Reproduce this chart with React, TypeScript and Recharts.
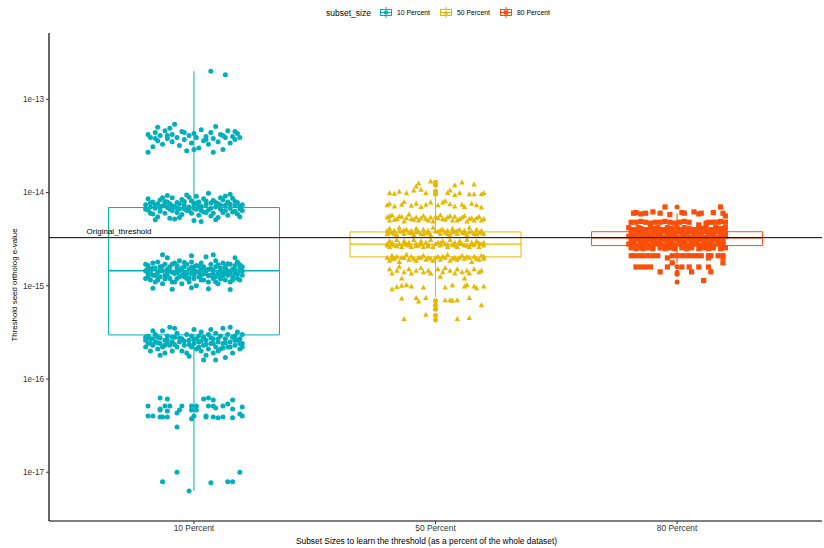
import React from 'react';
import { ScatterChart, Scatter, XAxis, YAxis, ReferenceArea, ReferenceLine, ReferenceDot } from 'recharts';

const categories = ['10 Percent', '50 Percent', '80 Percent'];
const colors = ['#00AFBB', '#E7B800', '#FC4E07'];
const yTicks = [1e-17, 1e-16, 1e-15, 1e-14, 1e-13];
const yDomain = [3.0e-18, 5.14e-13];
const thresholdValue = 3.28e-15;
const thresholdLabelX = 0.69;

// box stats: [lower whisker, q1, median, q3, upper whisker]
const box10 = [6.3e-18, 2.97e-16, 1.45e-15, 6.9e-15, 2.0e-13];
const box50 = [7.6e-16, 2.04e-15, 2.8e-15, 3.78e-15, 8.9e-15];
const box80 = [1.76e-15, 2.7e-15, 3.27e-15, 3.8e-15, 6.0e-15];

const outliers50 = [1.29e-14, 1.2e-14, 1.03e-14, 9.6e-15, 6.9e-16, 6.2e-16, 5.6e-16, 4.8e-16, 4.3e-16];
const outliers80 = [7.0e-15, 1.6e-15, 1.4e-15, 1.33e-15, 1.1e-15];

// jittered points: [jitter (hundredths of a category), value]
const tenPercentPoints = [
  [7, 2.0e-13], [13, 1.83e-13],
  [-19, 4.2e-14], [-18, 3.9e-14], [-17, 3.1e-14], [-16, 4.4e-14], [-15, 5.0e-14], [-15, 3.6e-14], [-14, 4.1e-14], [-13, 3.3e-14], [-12, 4.6e-14], [-11, 3.8e-14],
  [-10, 4.9e-14], [-9, 3.5e-14], [-9, 4.2e-14], [-8, 5.4e-14], [-7, 3.9e-14], [-6, 3.2e-14], [-5, 4.5e-14], [-4, 3.7e-14], [-3, 2.8e-14], [-2, 4.1e-14],
  [-1, 3.4e-14], [0, 4.3e-14], [1, 3.9e-14], [2, 3.0e-14], [3, 4.7e-14], [4, 3.6e-14], [5, 4.0e-14], [6, 3.3e-14], [7, 4.4e-14], [8, 3.8e-14],
  [9, 5.1e-14], [10, 3.5e-14], [11, 4.2e-14], [12, 2.9e-14], [13, 3.9e-14], [14, 4.6e-14], [15, 3.4e-14], [16, 4.0e-14], [17, 3.7e-14], [18, 4.3e-14],
  [19, 3.9e-14], [-16, 3.8e-14], [-11, 4.1e-14], [-4, 4.4e-14], [5, 3.7e-14], [12, 4.1e-14], [17, 4.5e-14], [-19, 2.7e-14], [8, 2.7e-14], [0, 2.9e-14],
  [-20, 7.4e-15], [-19, 6.5e-15], [-19, 8.6e-15], [-18, 7.0e-15], [-17, 5.9e-15], [-17, 7.9e-15], [-16, 6.8e-15], [-15, 7.6e-15], [-15, 5.5e-15], [-14, 8.3e-15],
  [-14, 6.3e-15], [-13, 7.2e-15], [-12, 6.0e-15], [-12, 8.0e-15], [-11, 6.9e-15], [-10, 7.6e-15], [-10, 5.3e-15], [-9, 6.4e-15], [-9, 8.8e-15], [-8, 7.1e-15],
  [-7, 6.1e-15], [-7, 7.8e-15], [-6, 6.7e-15], [-5, 8.4e-15], [-5, 5.8e-15], [-4, 7.3e-15], [-3, 6.4e-15], [-3, 9.4e-15], [-2, 7.0e-15], [-1, 6.0e-15],
  [-1, 8.1e-15], [0, 7.5e-15], [0, 5.0e-15], [1, 6.6e-15], [2, 7.9e-15], [2, 5.7e-15], [3, 7.1e-15], [4, 6.2e-15], [4, 8.6e-15], [5, 7.4e-15],
  [6, 6.5e-15], [6, 9.8e-15], [7, 7.7e-15], [8, 6.0e-15], [8, 8.2e-15], [9, 7.0e-15], [10, 5.4e-15], [10, 7.6e-15], [11, 6.6e-15], [12, 8.3e-15],
  [12, 6.1e-15], [13, 7.3e-15], [14, 5.7e-15], [14, 7.9e-15], [15, 6.8e-15], [16, 8.7e-15], [16, 6.2e-15], [17, 7.2e-15], [18, 5.9e-15], [18, 7.8e-15],
  [19, 6.7e-15], [20, 7.4e-15], [-18, 6.0e-15], [-13, 8.8e-15], [-6, 5.4e-15], [1, 9.1e-15], [7, 5.6e-15], [13, 9.2e-15], [19, 5.5e-15], [-16, 5.1e-15],
  [3, 4.9e-15], [9, 5.1e-15], [-11, 9.3e-15], [15, 9.6e-15], [-2, 8.9e-15], [11, 8.8e-15], [-8, 5.2e-15], [5, 6.1e-15], [-4, 6.7e-15], [17, 6.3e-15],
  [-20, 6.6e-15], [-18, 7.7e-15], [-16, 7.3e-15], [-14, 6.9e-15], [-12, 7.3e-15], [-11, 7.9e-15], [-9, 7.2e-15], [-7, 6.8e-15], [-6, 7.6e-15], [-4, 8.0e-15],
  [-2, 6.4e-15], [0, 6.8e-15], [1, 7.7e-15], [3, 6.4e-15], [5, 8.1e-15], [7, 6.8e-15], [9, 7.8e-15], [11, 7.3e-15], [13, 6.4e-15], [15, 7.5e-15],
  [17, 8.0e-15], [19, 7.1e-15], [20, 6.4e-15], [-10, 6.6e-15], [2, 7.1e-15],
  [-20, 1.45e-15], [-20, 1.2e-15], [-19, 1.65e-15], [-19, 1.35e-15], [-18, 1.5e-15], [-18, 1.15e-15], [-17, 1.75e-15], [-17, 1.3e-15], [-16, 1.55e-15], [-16, 1.1e-15],
  [-15, 1.4e-15], [-15, 1.8e-15], [-14, 1.25e-15], [-14, 1.6e-15], [-13, 1.45e-15], [-13, 1.05e-15], [-12, 1.7e-15], [-12, 1.3e-15], [-11, 1.5e-15], [-11, 2.0e-15],
  [-10, 1.2e-15], [-10, 1.6e-15], [-9, 1.4e-15], [-9, 1.1e-15], [-8, 1.75e-15], [-8, 1.35e-15], [-7, 1.55e-15], [-7, 1.2e-15], [-6, 1.45e-15], [-6, 1.85e-15],
  [-5, 1.3e-15], [-5, 1.05e-15], [-4, 1.6e-15], [-4, 1.4e-15], [-3, 1.2e-15], [-3, 1.7e-15], [-2, 1.5e-15], [-2, 1.1e-15], [-1, 1.35e-15], [-1, 1.8e-15],
  [0, 1.45e-15], [0, 1.2e-15], [1, 1.65e-15], [1, 1.0e-15], [2, 1.4e-15], [2, 1.25e-15], [3, 1.75e-15], [3, 1.5e-15], [4, 1.15e-15], [4, 1.6e-15],
  [5, 1.35e-15], [5, 2.05e-15], [6, 1.5e-15], [6, 1.1e-15], [7, 1.7e-15], [7, 1.3e-15], [8, 1.45e-15], [8, 1.2e-15], [9, 1.6e-15], [9, 1.85e-15],
  [10, 1.35e-15], [10, 1.05e-15], [11, 1.55e-15], [11, 1.25e-15], [12, 1.75e-15], [12, 1.4e-15], [13, 1.15e-15], [13, 1.6e-15], [14, 1.45e-15], [14, 1.3e-15],
  [15, 1.7e-15], [15, 1.1e-15], [16, 1.5e-15], [16, 1.25e-15], [17, 1.65e-15], [17, 1.35e-15], [18, 1.2e-15], [18, 1.8e-15], [19, 1.45e-15], [19, 1.55e-15],
  [20, 1.3e-15], [20, 1.6e-15], [-17, 9.4e-16], [-9, 9.2e-16], [-1, 9.5e-16], [6, 9.3e-16], [15, 9.1e-16], [-13, 2.15e-15], [-1, 2.1e-15], [8, 2.15e-15],
  [17, 2.0e-15], [-15, 1.25e-15], [-7, 1.65e-15], [3, 1.3e-15], [11, 1.4e-15], [19, 1.15e-15], [-19, 1.55e-15], [-11, 1.4e-15], [0, 1.6e-15], [13, 1.35e-15],
  [-4, 1.25e-15], [9, 1.25e-15],
  [-20, 1.7e-15], [-19, 1.25e-15], [-18, 1.38e-15], [-17, 1.55e-15], [-16, 1.3e-15], [-15, 1.15e-15], [-14, 1.45e-15], [-13, 1.62e-15], [-12, 1.18e-15], [-11, 1.28e-15],
  [-10, 1.45e-15], [-9, 1.7e-15], [-8, 1.1e-15], [-7, 1.38e-15], [-6, 1.25e-15], [-5, 1.55e-15], [-4, 1.78e-15], [-3, 1.35e-15], [-2, 1.22e-15], [-1, 1.58e-15],
  [0, 1.32e-15], [1, 1.42e-15], [2, 1.62e-15], [3, 1.15e-15], [4, 1.35e-15], [5, 1.48e-15], [6, 1.28e-15], [7, 1.52e-15], [8, 1.33e-15], [9, 1.1e-15],
  [10, 1.68e-15], [11, 1.18e-15], [12, 1.28e-15], [13, 1.5e-15], [14, 1.72e-15], [15, 1.38e-15], [16, 1.15e-15], [17, 1.48e-15], [18, 1.32e-15], [19, 1.68e-15], [20, 1.45e-15],
  [-20, 2.6e-16], [-20, 2.2e-16], [-19, 2.9e-16], [-19, 2.4e-16], [-18, 2.0e-16], [-18, 2.7e-16], [-17, 2.3e-16], [-16, 3.0e-16], [-16, 2.5e-16], [-15, 2.1e-16],
  [-15, 2.8e-16], [-14, 2.4e-16], [-13, 3.3e-16], [-13, 2.2e-16], [-12, 2.6e-16], [-12, 1.9e-16], [-11, 2.9e-16], [-10, 2.3e-16], [-10, 3.6e-16], [-9, 2.5e-16],
  [-9, 2.0e-16], [-8, 2.8e-16], [-7, 2.2e-16], [-7, 3.1e-16], [-6, 2.5e-16], [-5, 2.0e-16], [-5, 2.7e-16], [-4, 2.3e-16], [-3, 3.0e-16], [-3, 1.9e-16],
  [-2, 2.6e-16], [-1, 2.2e-16], [-1, 2.9e-16], [0, 2.4e-16], [0, 3.4e-16], [1, 2.1e-16], [1, 2.7e-16], [2, 2.5e-16], [3, 3.2e-16], [3, 2.0e-16],
  [4, 2.8e-16], [4, 2.3e-16], [5, 2.6e-16], [6, 2.1e-16], [6, 3.0e-16], [7, 2.4e-16], [8, 2.7e-16], [8, 1.9e-16], [9, 2.2e-16], [9, 3.1e-16],
  [10, 2.5e-16], [11, 2.9e-16], [11, 2.1e-16], [12, 2.4e-16], [12, 3.5e-16], [13, 2.7e-16], [14, 2.2e-16], [14, 3.0e-16], [15, 2.5e-16], [16, 1.9e-16],
  [16, 2.8e-16], [17, 2.3e-16], [18, 2.6e-16], [18, 3.2e-16], [19, 2.1e-16], [19, 2.7e-16], [20, 2.4e-16], [20, 3.0e-16], [-14, 1.8e-16], [-2, 1.75e-16],
  [5, 1.8e-16], [13, 1.7e-16], [-8, 3.5e-16], [7, 3.4e-16], [15, 3.6e-16], [-17, 3.3e-16], [4, 1.6e-16], [-11, 2.4e-16], [2, 2.9e-16], [10, 2.0e-16],
  [17, 2.9e-16], [9, 1.6e-16],
  [-20, 2.8e-16], [-18, 2.4e-16], [-17, 2.7e-16], [-15, 2.45e-16], [-14, 2.75e-16], [-12, 2.3e-16], [-11, 2.6e-16], [-9, 2.8e-16], [-8, 2.35e-16], [-6, 2.75e-16],
  [-4, 2.55e-16], [-2, 2.35e-16], [0, 2.65e-16], [2, 2.2e-16], [3, 2.55e-16], [5, 2.35e-16], [7, 2.75e-16], [8, 2.4e-16], [10, 2.7e-16], [12, 2.15e-16],
  [13, 2.45e-16], [15, 2.2e-16], [17, 2.6e-16], [19, 2.4e-16], [20, 2.2e-16],
  [-14, 6.25e-17], [-11, 6.1e-17], [4, 6.1e-17], [6, 6.25e-17], [8, 5.96e-17], [16, 5.96e-17], [-19, 5.13e-17], [-14, 4.77e-17], [-12, 5.13e-17], [-10, 5.13e-17],
  [-5, 5.13e-17], [-1, 5.13e-17], [1, 5.13e-17], [6, 5.13e-17], [8, 5.13e-17], [12, 5.13e-17], [14, 5.4e-17], [20, 5.0e-17], [-14, 4.66e-17], [-11, 4.55e-17],
  [-6, 4.66e-17], [-1, 4.66e-17], [1, 4.66e-17], [9, 4.89e-17], [16, 4.77e-17], [-19, 4.0e-17], [-17, 4.0e-17], [-14, 3.92e-17], [-13, 3.92e-17], [-11, 3.92e-17],
  [-7, 4.33e-17], [0, 4.0e-17], [-1, 3.74e-17], [5, 3.92e-17], [5, 4.0e-17], [8, 3.92e-17], [10, 3.83e-17], [12, 3.92e-17], [16, 3.83e-17], [19, 4.22e-17],
  [20, 4.0e-17], [-7, 3.05e-17],
  [-7, 1.0e-17], [-13, 7.9e-18], [19, 1.0e-17], [7, 7.7e-18], [14, 7.9e-18], [16, 7.9e-18], [-2, 6.3e-18],
];

const fiftyPercentPoints = [
  [-7, 1.25e-14], [-2, 1.31e-14], [8, 1.2e-14], [11, 1.28e-14], [16, 1.22e-14], [-8, 1.16e-14],
  [-19, 9.9e-15], [-17, 9.7e-15], [-15, 1.02e-14], [-12, 9.8e-15], [-9, 1.05e-14], [-6, 1.07e-14], [-4, 9.9e-15], [5, 9.9e-15], [6, 1.05e-14], [8, 9.4e-15],
  [10, 9.9e-15], [14, 9.6e-15], [16, 9.6e-15], [19, 9.6e-15], [20, 9.9e-15],
  [-20, 7.3e-15], [-19, 7.6e-15], [-17, 7.1e-15], [-14, 7.4e-15], [-13, 7.9e-15], [-10, 7.2e-15], [-8, 7.6e-15], [-6, 7.0e-15], [-4, 7.4e-15], [-2, 7.8e-15],
  [1, 7.3e-15], [3, 7.8e-15], [4, 8.1e-15], [6, 7.5e-15], [8, 7.1e-15], [11, 7.4e-15], [12, 7.0e-15], [15, 7.6e-15], [17, 7.3e-15], [19, 6.9e-15],
  [-20, 5.4e-15], [-19, 5.0e-15], [-18, 5.7e-15], [-16, 5.2e-15], [-15, 5.5e-15], [-13, 4.9e-15], [-12, 5.3e-15], [-11, 5.8e-15], [-9, 5.1e-15], [-8, 5.4e-15],
  [-7, 5.0e-15], [-5, 5.6e-15], [-4, 5.2e-15], [-2, 5.4e-15], [-1, 4.9e-15], [1, 5.3e-15], [2, 5.7e-15], [4, 5.1e-15], [5, 5.4e-15], [7, 5.0e-15],
  [8, 5.5e-15], [10, 5.2e-15], [12, 5.6e-15], [13, 4.9e-15], [15, 5.3e-15], [16, 5.0e-15], [18, 5.5e-15], [20, 5.2e-15],
  [-19, 5.6e-15], [-17, 5.1e-15], [-14, 5.5e-15], [-10, 5.2e-15], [-6, 5.3e-15], [-3, 5.0e-15], [0, 5.5e-15], [3, 5.2e-15], [6, 5.6e-15], [9, 5.0e-15],
  [11, 5.4e-15], [14, 5.2e-15], [17, 5.3e-15], [19, 5.0e-15],
  [-20, 3.9e-15], [-20, 3.6e-15], [-19, 4.1e-15], [-18, 3.7e-15], [-17, 3.9e-15], [-16, 3.5e-15], [-15, 4.2e-15], [-14, 3.8e-15], [-13, 3.6e-15], [-12, 4.0e-15],
  [-11, 3.7e-15], [-10, 3.9e-15], [-9, 3.5e-15], [-8, 4.1e-15], [-7, 3.8e-15], [-6, 3.6e-15], [-5, 4.0e-15], [-4, 3.7e-15], [-3, 3.9e-15], [-2, 3.5e-15],
  [-1, 4.2e-15], [1, 3.8e-15], [2, 3.6e-15], [3, 4.0e-15], [4, 3.7e-15], [5, 3.9e-15], [6, 3.5e-15], [7, 4.1e-15], [8, 3.8e-15], [9, 3.6e-15],
  [10, 4.0e-15], [11, 3.7e-15], [12, 3.9e-15], [13, 3.5e-15], [14, 4.2e-15], [15, 3.8e-15], [16, 3.6e-15], [17, 4.0e-15], [18, 3.7e-15], [19, 3.9e-15], [20, 3.6e-15],
  [-19, 3.75e-15], [-17, 3.6e-15], [-15, 3.85e-15], [-13, 3.95e-15], [-10, 3.65e-15], [-8, 3.75e-15], [-5, 3.55e-15], [-3, 3.65e-15], [0, 3.85e-15], [2, 3.95e-15],
  [5, 3.6e-15], [7, 3.75e-15], [9, 3.9e-15], [12, 3.65e-15], [14, 3.75e-15], [17, 3.55e-15], [19, 3.7e-15],
  [-20, 2.8e-15], [-19, 3.0e-15], [-19, 2.6e-15], [-18, 2.9e-15], [-17, 2.7e-15], [-16, 3.1e-15], [-15, 2.8e-15], [-14, 2.6e-15], [-13, 3.0e-15], [-12, 2.75e-15],
  [-11, 2.9e-15], [-10, 2.6e-15], [-9, 3.1e-15], [-8, 2.8e-15], [-7, 2.7e-15], [-6, 3.0e-15], [-5, 2.6e-15], [-4, 2.9e-15], [-3, 2.75e-15], [-2, 3.1e-15],
  [-1, 2.6e-15], [1, 2.9e-15], [2, 2.7e-15], [3, 3.0e-15], [4, 2.8e-15], [5, 2.6e-15], [6, 3.1e-15], [7, 2.75e-15], [8, 2.9e-15], [9, 2.6e-15],
  [10, 3.0e-15], [11, 2.8e-15], [12, 2.7e-15], [13, 3.1e-15], [14, 2.6e-15], [15, 2.9e-15], [16, 2.75e-15], [17, 3.0e-15], [18, 2.6e-15], [19, 2.8e-15], [20, 2.9e-15],
  [-20, 2.7e-15], [-18, 2.75e-15], [-16, 2.65e-15], [-13, 2.8e-15], [-11, 2.7e-15], [-8, 2.65e-15], [-6, 2.8e-15], [-3, 2.65e-15], [0, 2.8e-15], [2, 2.85e-15],
  [5, 2.75e-15], [8, 2.7e-15], [10, 2.8e-15], [13, 2.7e-15], [15, 2.75e-15], [18, 2.85e-15], [20, 2.7e-15],
  [-20, 2.0e-15], [-19, 1.85e-15], [-18, 2.1e-15], [-17, 1.95e-15], [-16, 2.05e-15], [-15, 1.8e-15], [-14, 2.0e-15], [-12, 2.15e-15], [-11, 1.9e-15], [-10, 2.05e-15],
  [-8, 1.85e-15], [-7, 2.0e-15], [-5, 2.1e-15], [-4, 1.9e-15], [-3, 2.0e-15], [-1, 1.85e-15], [1, 2.05e-15], [2, 1.9e-15], [4, 2.0e-15], [5, 2.15e-15],
  [6, 1.85e-15], [8, 2.0e-15], [9, 1.9e-15], [11, 2.1e-15], [12, 1.95e-15], [14, 2.0e-15], [15, 1.8e-15], [16, 2.05e-15], [18, 1.9e-15], [19, 2.1e-15], [20, 1.95e-15],
  [-18, 1.95e-15], [-13, 2.0e-15], [-9, 1.95e-15], [-6, 2.0e-15], [-2, 1.95e-15], [0, 2.0e-15], [3, 2.05e-15], [7, 1.95e-15], [10, 2.0e-15], [13, 2.05e-15],
  [17, 1.95e-15], [20, 2.05e-15],
  [-19, 1.5e-15], [-18, 1.35e-15], [-16, 1.45e-15], [-15, 1.6e-15], [-13, 1.4e-15], [-11, 1.5e-15], [-10, 1.35e-15], [-8, 1.45e-15], [-6, 1.55e-15], [-5, 1.4e-15],
  [-3, 1.45e-15], [-2, 1.35e-15], [1, 1.5e-15], [3, 1.4e-15], [4, 1.55e-15], [6, 1.45e-15], [8, 1.35e-15], [9, 1.5e-15], [11, 1.4e-15], [13, 1.45e-15],
  [14, 1.35e-15], [16, 1.5e-15], [18, 1.4e-15], [19, 1.45e-15], [-14, 1.2e-15], [2, 1.25e-15], [12, 1.2e-15],
  [-18, 9.2e-16], [-16, 9.7e-16], [-14, 1.0e-15], [-12, 1.02e-15], [-10, 9.8e-16], [-5, 9.6e-16], [4, 9.6e-16], [7, 1.01e-15], [12, 9.8e-16], [13, 1.02e-15],
  [16, 9.8e-16], [17, 9.4e-16], [20, 9.8e-16],
  [-14, 7.3e-16], [-8, 7.4e-16], [-7, 6.8e-16], [-4, 7.4e-16], [4, 7.0e-16], [6, 7.0e-16], [7, 6.9e-16], [9, 7.0e-16], [14, 7.4e-16], [19, 6.2e-16],
  [-13, 4.4e-16], [-4, 4.9e-16], [9, 4.4e-16], [14, 4.5e-16],
];

const eightyPercentPoints = [
  [-5, 7.0e-15], [18, 7.0e-15],
  [-18, 6.0e-15], [-17, 6.1e-15], [-15, 5.9e-15], [-13, 6.0e-15], [-10, 6.2e-15], [-7, 6.0e-15], [-3, 5.8e-15], [2, 6.1e-15], [3, 6.0e-15], [7, 6.2e-15],
  [9, 5.9e-15], [10, 6.0e-15], [15, 6.1e-15], [19, 6.0e-15], [20, 5.6e-15],
  [-19, 4.8e-15], [-17, 4.8e-15], [-15, 4.9e-15], [-13, 4.8e-15], [-11, 4.7e-15], [-9, 4.8e-15], [-7, 4.8e-15], [-5, 4.9e-15], [-3, 4.8e-15], [-1, 4.7e-15],
  [1, 4.8e-15], [3, 4.9e-15], [5, 4.8e-15], [9, 4.5e-15], [12, 4.7e-15], [13, 4.8e-15], [15, 4.8e-15], [17, 4.8e-15], [18, 4.9e-15], [20, 4.8e-15],
  [-20, 4.2e-15], [-18, 4.0e-15], [-16, 4.2e-15], [-15, 4.1e-15], [-13, 4.0e-15], [-11, 4.2e-15], [-9, 4.1e-15], [-8, 4.2e-15], [-6, 4.0e-15], [-4, 4.2e-15],
  [-2, 4.1e-15], [0, 4.2e-15], [1, 4.0e-15], [3, 4.2e-15], [5, 4.1e-15], [7, 4.0e-15], [9, 4.2e-15], [11, 4.1e-15], [12, 4.2e-15], [14, 4.0e-15],
  [16, 4.2e-15], [18, 4.1e-15], [20, 4.2e-15],
  [-19, 3.8e-15], [-17, 3.7e-15], [-16, 3.8e-15], [-14, 3.8e-15], [-12, 3.7e-15], [-10, 3.8e-15], [-9, 3.8e-15], [-7, 3.7e-15], [-5, 3.8e-15], [-3, 3.8e-15],
  [-1, 3.7e-15], [1, 3.8e-15], [2, 3.8e-15], [4, 3.7e-15], [6, 3.8e-15], [8, 3.8e-15], [10, 3.7e-15], [12, 3.8e-15], [13, 3.8e-15], [15, 3.7e-15],
  [17, 3.8e-15], [19, 3.8e-15], [20, 3.7e-15],
  [-20, 3.4e-15], [-18, 3.4e-15], [-17, 3.3e-15], [-15, 3.4e-15], [-13, 3.4e-15], [-12, 3.3e-15], [-10, 3.4e-15], [-8, 3.4e-15], [-6, 3.3e-15], [-4, 3.4e-15],
  [-2, 3.4e-15], [0, 3.3e-15], [2, 3.4e-15], [3, 3.4e-15], [5, 3.3e-15], [7, 3.4e-15], [9, 3.4e-15], [11, 3.3e-15], [13, 3.4e-15], [15, 3.4e-15],
  [16, 3.3e-15], [18, 3.4e-15], [20, 3.4e-15],
  [-19, 3.1e-15], [-18, 3.0e-15], [-16, 3.1e-15], [-14, 3.1e-15], [-13, 3.0e-15], [-11, 3.1e-15], [-9, 3.1e-15], [-7, 3.0e-15], [-5, 3.1e-15], [-4, 3.1e-15],
  [-2, 3.0e-15], [0, 3.1e-15], [1, 3.1e-15], [3, 3.0e-15], [5, 3.1e-15], [7, 3.1e-15], [8, 3.0e-15], [10, 3.1e-15], [12, 3.1e-15], [14, 3.0e-15],
  [16, 3.1e-15], [17, 3.1e-15], [19, 3.0e-15],
  [-20, 2.8e-15], [-18, 2.8e-15], [-16, 2.7e-15], [-15, 2.8e-15], [-13, 2.8e-15], [-11, 2.7e-15], [-10, 2.8e-15], [-8, 2.8e-15], [-6, 2.7e-15], [-4, 2.8e-15],
  [-3, 2.8e-15], [-1, 2.7e-15], [1, 2.8e-15], [3, 2.8e-15], [4, 2.7e-15], [6, 2.8e-15], [8, 2.8e-15], [10, 2.7e-15], [11, 2.8e-15], [13, 2.8e-15],
  [15, 2.7e-15], [17, 2.8e-15], [19, 2.8e-15],
  [-19, 2.55e-15], [-17, 2.5e-15], [-15, 2.55e-15], [-14, 2.5e-15], [-12, 2.55e-15], [-10, 2.5e-15], [-7, 2.55e-15], [-5, 2.5e-15], [-3, 2.55e-15], [-1, 2.5e-15],
  [2, 2.55e-15], [4, 2.5e-15], [6, 2.55e-15], [9, 2.5e-15], [11, 2.55e-15], [13, 2.5e-15], [15, 2.55e-15], [18, 2.5e-15], [20, 2.55e-15],
  [-19, 2.1e-15], [-18, 2.1e-15], [-16, 2.1e-15], [-14, 2.1e-15], [-12, 2.1e-15], [-10, 2.1e-15], [-8, 2.1e-15], [-2, 2.1e-15], [0, 2.1e-15], [2, 2.1e-15],
  [4, 2.1e-15], [6, 2.1e-15], [8, 2.1e-15], [10, 2.1e-15], [13, 2.1e-15], [14, 2.1e-15], [17, 2.1e-15], [19, 2.1e-15],
  [-4, 1.99e-15], [13, 1.99e-15], [19, 1.99e-15], [-2, 1.76e-15], [19, 1.76e-15],
  [-17, 1.59e-15], [-15, 1.59e-15], [-13, 1.59e-15], [-11, 1.59e-15], [-4, 1.59e-15], [2, 1.59e-15], [5, 1.59e-15], [9, 1.59e-15], [13, 1.59e-15],
  [-7, 1.41e-15], [6, 1.41e-15], [14, 1.41e-15], [11, 1.14e-15],
];

const boxes = [box10, box50, box80];
const pointSets = [tenPercentPoints, fiftyPercentPoints, eightyPercentPoints];
const outlierSets = [[], outliers50, outliers80];
const BOX_HALF = 0.354;
const FONT = '"Liberation Sans", Arial, Helvetica, sans-serif';

const toXY = (pts: number[][], cat: number) => pts.map(([j, v]) => ({ x: cat + j / 100, y: v }));
const toOutXY = (vals: number[], cat: number) => vals.map((v) => ({ x: cat, y: v }));

const CircleShape = (color: string) => (p: any) =>
  p.cx == null ? null : <circle cx={p.cx} cy={p.cy} r={2.5} fill={color} />;
const TriangleShape = (color: string) => (p: any) =>
  p.cx == null ? null : (
    <polygon
      points={`${p.cx},${p.cy - 3} ${p.cx - 2.7},${p.cy + 2} ${p.cx + 2.7},${p.cy + 2}`}
      fill={color}
    />
  );
const SquareShape = (color: string) => (p: any) =>
  p.cx == null ? null : <rect x={p.cx - 2.6} y={p.cy - 2.6} width={5.2} height={5.2} fill={color} />;

const shapeMakers = [CircleShape, TriangleShape, SquareShape];

const LegendKey = ({ color, kind }: { color: string; kind: number }) => (
  <svg width={12} height={11} style={{ display: 'block' }}>
    <line x1={6} x2={6} y1={0} y2={11} stroke={color} strokeWidth={1} />
    <rect x={0.5} y={2.5} width={11} height={6} fill="#fff" stroke={color} strokeWidth={1} />
    <line x1={0.5} x2={11.5} y1={5.5} y2={5.5} stroke={color} strokeWidth={1} />
    {kind === 0 && <circle cx={6} cy={5.5} r={2.2} fill={color} />}
    {kind === 1 && <polygon points="6,3 3.6,7.4 8.4,7.4" fill={color} />}
    {kind === 2 && <rect x={3.8} y={3.3} width={4.4} height={4.4} fill={color} />}
  </svg>
);

const legendKeyLeft = [380, 440, 500];
const legendTextLeft = [397, 457, 517];

const YLabel = (props: any) => {
  const vb = props.viewBox || { x: 0, y: 33, width: 49, height: 488 };
  const x = vb.x + 16.5;
  const y = vb.y + vb.height / 2 + 8;
  return (
    <text x={x} y={y} transform={`rotate(-90, ${x}, ${y})`} textAnchor="middle" fontSize={7.9} fill="#000" fontFamily={FONT}>
      Threshold seed ortholog e-value
    </text>
  );
};

const XLabel = (props: any) => {
  const vb = props.viewBox || { x: 49, y: 521, width: 773, height: 27 };
  const x = vb.x + vb.width / 2 - 9;
  const y = vb.y + vb.height - 4;
  return (
    <text x={x} y={y} textAnchor="middle" fontSize={8.4} fill="#000" fontFamily={FONT}>
      Subset Sizes to learn the threshold (as a percent of the whole dataset)
    </text>
  );
};

export default function App() {
  return (
    <div style={{ position: 'absolute', left: 0, top: 0, width: 824, height: 548, background: '#fff', fontFamily: FONT }}>
      <div style={{ position: 'absolute', left: 326, top: 7, fontSize: 8.5, color: '#000', lineHeight: '12px' }}>subset_size</div>
      {categories.map((c, i) => (
        <React.Fragment key={c}>
          <div style={{ position: 'absolute', left: legendKeyLeft[i], top: 7 }}>
            <LegendKey color={colors[i]} kind={i} />
          </div>
          <div style={{ position: 'absolute', left: legendTextLeft[i], top: 7, fontSize: 6.8, color: '#000', lineHeight: '12px' }}>{c}</div>
        </React.Fragment>
      ))}
      <ScatterChart width={824} height={548} margin={{ top: 33, right: 2, bottom: 0, left: 0 }}>
        <XAxis
          type="number"
          dataKey="x"
          domain={[0.4, 3.6]}
          ticks={[1, 2, 3]}
          interval={0}
          allowDataOverflow
          tickFormatter={(v: number) => categories[Math.round(v) - 1]}
          height={27}
          axisLine={{ stroke: '#000', strokeWidth: 1.2 }}
          tickLine={{ stroke: '#333' }}
          tickSize={3}
          tickMargin={1}
          tick={{ fill: '#333', fontSize: 8.4, fontFamily: FONT }}
          label={<XLabel />}
        />
        <YAxis
          type="number"
          dataKey="y"
          scale="log"
          domain={yDomain}
          ticks={yTicks}
          interval={0}
          allowDataOverflow
          width={49}
          axisLine={{ stroke: '#000', strokeWidth: 1.2 }}
          tickLine={{ stroke: '#333' }}
          tickSize={3}
          tickMargin={2}
          tick={{ fill: '#333', fontSize: 8.2, fontFamily: FONT }}
          tickFormatter={(v: number) => `1e${Math.round(Math.log10(v))}`}
          label={<YLabel />}
        />
        {boxes.map((b, i) => (
          <ReferenceArea
            key={`box${i}`}
            x1={i + 1 - BOX_HALF}
            x2={i + 1 + BOX_HALF}
            y1={b[1]}
            y2={b[3]}
            stroke={colors[i]}
            strokeWidth={1}
            fill="#fff"
            fillOpacity={1}
            ifOverflow="visible"
            zIndex={100}
          />
        ))}
        {boxes.map((b, i) => (
          <ReferenceLine
            key={`med${i}`}
            segment={[{ x: i + 1 - BOX_HALF, y: b[2] }, { x: i + 1 + BOX_HALF, y: b[2] }]}
            stroke={colors[i]}
            strokeWidth={1.4}
            ifOverflow="visible"
            zIndex={110}
          />
        ))}
        {boxes.map((b, i) => (
          <ReferenceLine
            key={`wup${i}`}
            segment={[{ x: i + 1, y: b[3] }, { x: i + 1, y: b[4] }]}
            stroke={colors[i]}
            strokeWidth={1}
            ifOverflow="visible"
            zIndex={110}
          />
        ))}
        {boxes.map((b, i) => (
          <ReferenceLine
            key={`wlo${i}`}
            segment={[{ x: i + 1, y: b[0] }, { x: i + 1, y: b[1] }]}
            stroke={colors[i]}
            strokeWidth={1}
            ifOverflow="visible"
            zIndex={110}
          />
        ))}
        {outlierSets.map((o, i) => (
          <Scatter key={`out${i}`} data={toOutXY(o, i + 1)} shape={CircleShape(colors[i])} isAnimationActive={false} />
        ))}
        {pointSets.map((p, i) => (
          <Scatter key={`pts${i}`} data={toXY(p, i + 1)} shape={shapeMakers[i](colors[i])} isAnimationActive={false} />
        ))}
        <ReferenceLine y={thresholdValue} stroke="#000" strokeWidth={1} zIndex={1000} />
        <ReferenceDot
          x={thresholdLabelX}
          y={thresholdValue}
          r={0}
          fill="none"
          stroke="none"
          zIndex={1000}
          label={{ value: 'Original_threshold', position: 'top', offset: 4, fontSize: 8, fill: '#000', fontFamily: FONT }}
        />
      </ScatterChart>
    </div>
  );
}
